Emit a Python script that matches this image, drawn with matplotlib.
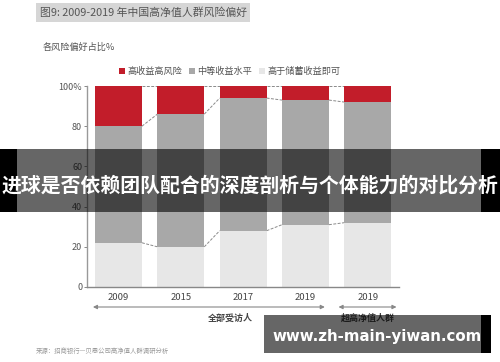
import matplotlib
matplotlib.use("Agg")
import matplotlib.pyplot as plt
from matplotlib.patches import Rectangle
from matplotlib.transforms import blended_transform_factory
import numpy as np

plt.rcParams['font.family'] = ['Noto Sans CJK SC', 'DejaVu Sans']

years = ['2009', '2015', '2017', '2019', '2019']
low = [22, 20, 28, 31, 32]        # 高于储蓄收益即可
mid = [58, 66, 66, 62, 60]        # 中等收益水平
high = [20, 14, 6, 7, 8]          # 高收益高风险
legend_labels = ['高收益高风险', '中等收益水平', '高于储蓄收益即可']
yticks = [0, 20, 40, 60, 80, 100]
ytick_labels = ['0', '20', '40', '60', '80', '100%']
group_labels = ['全部受访人', '超高净值人群']

c_high = '#c21d2a'
c_mid = '#a8a8a8'
c_low = '#e7e7e7'

W, H = 500, 362
fig = plt.figure(figsize=(W/100, H/100), dpi=100)
fig.patch.set_facecolor('white')

def fx(px):
    return px / W
def fy(py):
    return 1 - py / H

ax = fig.add_axes([fx(87), fy(287), fx(399) - fx(87), fy(86) - fy(287)])
x = np.arange(len(years))
bw = 0.753
low_a = np.array(low); mid_a = np.array(mid); high_a = np.array(high)
ax.bar(x, low_a, bw, color=c_low, zorder=2)
ax.bar(x, mid_a, bw, bottom=low_a, color=c_mid, zorder=2)
ax.bar(x, high_a, bw, bottom=low_a + mid_a, color=c_high, zorder=2)

# connector lines
levels = [low_a, low_a + mid_a, low_a + mid_a + high_a]
for lev in levels:
    for i in range(len(x) - 1):
        ax.plot([x[i] + bw/2, x[i+1] - bw/2], [lev[i], lev[i+1]],
                color='#8a8a8a', lw=0.7, ls=(0, (3, 1.5)), zorder=1)

ax.set_xlim(-0.505, 4.5)
ax.set_ylim(0, 100)
ax.set_yticks(yticks)
ax.set_yticklabels(ytick_labels, fontsize=6.5, color='#555555')
ax.set_xticks(x)
ax.set_xticklabels(years, fontsize=6.8, color='#444444')
ax.tick_params(axis='x', length=0, pad=4)
ax.tick_params(axis='y', length=2.5, width=0.7, color='#888888', pad=1)
for s in ['top', 'right']:
    ax.spines[s].set_visible(False)
ax.spines['left'].set_color('#999999')
ax.spines['bottom'].set_color('#888888')
ax.spines['left'].set_linewidth(1.0)
ax.spines['bottom'].set_linewidth(1.0)

# group arrows
tr = blended_transform_factory(ax.transData, ax.transAxes)
ay = (287 - 307) / 201
for (x0, x1), lab, lx in [((-0.41, 3.31), group_labels[0], 1.79),
                          ((3.53, 4.46), group_labels[1], 4.0)]:
    ax.annotate('', xy=(x0, ay), xytext=(x1, ay), xycoords=tr, textcoords=tr,
                arrowprops=dict(arrowstyle='<|-|>', color='#888888', lw=0.8,
                                mutation_scale=6, shrinkA=0, shrinkB=0),
                annotation_clip=False)
    ax.text(lx, (287 - 318) / 201, lab, transform=tr, ha='center', va='center',
            fontsize=6.5, color='#444444', fontweight='bold', clip_on=False)

# title box
fig.add_artist(Rectangle((fx(36), fy(22)), fx(250) - fx(36), fy(3) - fy(22),
                         transform=fig.transFigure, facecolor='#d6d6d6',
                         edgecolor='none', zorder=1))
fig.text(fx(40), fy(12.5), '图9: 2009-2019 年中国高净值人群风险偏好',
         fontsize=7.8, color='#555555', va='center', ha='left')
fig.text(fx(43), fy(47), '各风险偏好占比%', fontsize=6.6, color='#555555',
         va='center', ha='left')

# legend
for (px, col, lab) in [(122, c_high, legend_labels[0]),
                       (192, c_mid, legend_labels[1]),
                       (262, c_low, legend_labels[2])]:
    fig.add_artist(Rectangle((fx(px - 3), fy(74)), fx(6), fy(68) - fy(74),
                             transform=fig.transFigure, facecolor=col,
                             edgecolor='none'))
    fig.text(fx(px + 5), fy(71), lab, fontsize=6.6, color='#555555',
             va='center', ha='left')

# source
fig.text(fx(36), fy(351), '来源：招商银行—贝恩公司高净值人群调研分析',
         fontsize=4.6, color='#999999', va='center', ha='left')

# overlay band
fig.add_artist(Rectangle((0, fy(212)), 1, fy(149) - fy(212),
                         transform=fig.transFigure, facecolor='black',
                         alpha=0.6, edgecolor='none', zorder=5))
fig.add_artist(Rectangle((0, fy(212)), fx(17), fy(149) - fy(212),
                         transform=fig.transFigure, facecolor='black',
                         edgecolor='none', zorder=5))
fig.add_artist(Rectangle((fx(481), fy(212)), fx(19), fy(149) - fy(212),
                         transform=fig.transFigure, facecolor='black',
                         edgecolor='none', zorder=5))
fig.text(0.5, fy(185), '进球是否依赖团队配合的深度剖析与个体能力的对比分析',
         fontsize=14.3, color='white', fontweight='bold', ha='center',
         va='center', zorder=6)

# bottom banner
fig.add_artist(Rectangle((fx(264), fy(353)), fx(481) - fx(264), fy(315) - fy(353),
                         transform=fig.transFigure, facecolor='black',
                         alpha=0.6, edgecolor='none', zorder=5))
fig.add_artist(Rectangle((fx(481), fy(353)), fx(10), fy(315) - fy(353),
                         transform=fig.transFigure, facecolor='black',
                         edgecolor='none', zorder=5))
fig.text(fx(377), fy(336), 'www.zh-main-yiwan.com', fontsize=10.8,
         family='DejaVu Sans', color='white', fontweight='bold',
         ha='center', va='center', zorder=6)

fig.savefig('out.png', dpi=100, facecolor='white')
